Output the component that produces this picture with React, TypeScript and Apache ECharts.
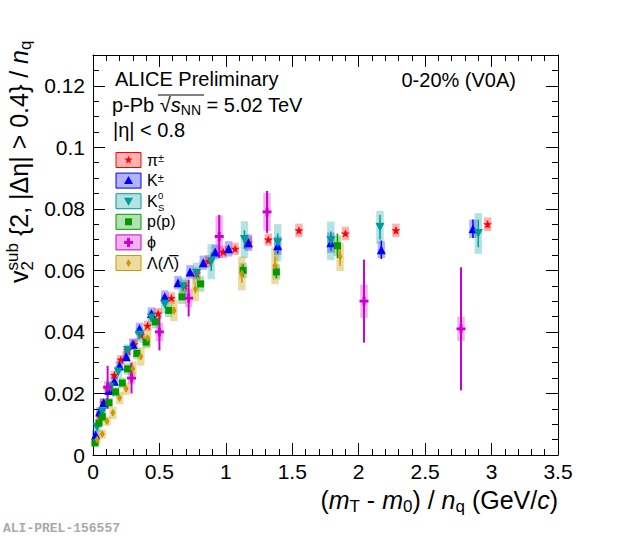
import { useEffect, useRef } from 'react'
import * as echarts from 'echarts'

// pi+-
const pionX = [0.05, 0.08, 0.12, 0.16, 0.21, 0.26, 0.31, 0.36, 0.41, 0.49, 0.59, 0.69, 0.78, 0.87, 0.98, 1.07, 1.17, 1.32, 1.55, 1.9, 2.28, 2.97]
const pionY = [0.013, 0.017, 0.021, 0.026, 0.031, 0.034, 0.036, 0.039, 0.042, 0.046, 0.051, 0.055, 0.059, 0.063, 0.066, 0.067, 0.069, 0.07, 0.073, 0.072, 0.073, 0.075]
const pionStat = [0.0004, 0.0004, 0.0004, 0.0004, 0.0004, 0.0004, 0.0004, 0.0004, 0.0004, 0.0004, 0.0004, 0.0004, 0.0004, 0.0004, 0.0005, 0.0005, 0.0005, 0.0006, 0.0007, 0.0008, 0.0009, 0.0011]
const pionSys = [0.0012, 0.0012, 0.0013, 0.0014, 0.0015, 0.0015, 0.0016, 0.0017, 0.0017, 0.0018, 0.0019, 0.002, 0.002, 0.002, 0.002, 0.002, 0.002, 0.002, 0.0022, 0.0022, 0.0022, 0.0022]

// K+-
const kaonX = [0.02, 0.05, 0.08, 0.12, 0.16, 0.2, 0.25, 0.3, 0.35, 0.44, 0.54, 0.64, 0.73, 0.83, 0.92, 1.02, 1.17, 1.39, 1.79, 2.17, 2.86]
const kaonY = [0.0065, 0.014, 0.017, 0.021, 0.024, 0.029, 0.032, 0.036, 0.041, 0.046, 0.0514, 0.056, 0.0595, 0.0625, 0.066, 0.067, 0.069, 0.068, 0.069, 0.0667, 0.0735]
const kaonStat = [0.0006, 0.0005, 0.0005, 0.0005, 0.0005, 0.0005, 0.0005, 0.0005, 0.0005, 0.0005, 0.0006, 0.0006, 0.0007, 0.0008, 0.0009, 0.001, 0.0012, 0.0025, 0.0025, 0.003, 0.003]
const kaonSys = [0.0015, 0.0015, 0.0015, 0.0015, 0.0016, 0.0017, 0.0018, 0.0019, 0.002, 0.002, 0.0021, 0.0022, 0.0022, 0.0023, 0.0024, 0.0025, 0.0027, 0.003, 0.0033, 0.0027, 0.003]

// K0s
const k0sX = [0.03, 0.07, 0.13, 0.19, 0.26, 0.35, 0.44, 0.54, 0.68, 0.78, 0.89, 1.14, 1.39, 1.79, 2.16, 2.9]
const k0sY = [0.009, 0.014, 0.022, 0.027, 0.034, 0.039, 0.0445, 0.049, 0.0547, 0.059, 0.0628, 0.07, 0.069, 0.0696, 0.074, 0.072]
const k0sStat = [0.0008, 0.0008, 0.0008, 0.0008, 0.0008, 0.0009, 0.001, 0.001, 0.0012, 0.0015, 0.003, 0.003, 0.003, 0.003, 0.004, 0.0045]
const k0sSys = [0.0015, 0.0015, 0.002, 0.002, 0.002, 0.0025, 0.0025, 0.003, 0.003, 0.0035, 0.0057, 0.006, 0.006, 0.0063, 0.0053, 0.0066]

// p(pbar)
const protonX = [0.015, 0.045, 0.07, 0.12, 0.17, 0.22, 0.26, 0.33, 0.4, 0.47, 0.57, 0.67, 0.81, 1.13, 1.38, 1.84]
const protonY = [0.004, 0.0104, 0.0124, 0.017, 0.0205, 0.0234, 0.028, 0.033, 0.0367, 0.0433, 0.047, 0.0514, 0.0556, 0.06, 0.0595, 0.068]
const protonStat = [0.0005, 0.0005, 0.0005, 0.0005, 0.0005, 0.0005, 0.0005, 0.0005, 0.0006, 0.0006, 0.0007, 0.0008, 0.001, 0.002, 0.002, 0.004]
const protonSys = [0.0015, 0.0015, 0.0015, 0.0015, 0.0016, 0.0017, 0.0018, 0.0019, 0.002, 0.0021, 0.0022, 0.0023, 0.0025, 0.0025, 0.0025, 0.0033]

// phi
const phiX = [0.11, 0.29, 0.5, 0.72, 0.95, 1.31, 2.04, 2.77]
const phiY = [0.022, 0.025, 0.04, 0.051, 0.071, 0.079, 0.05, 0.041]
const phiStat = [0.007, 0.005, 0.006, 0.006, 0.007, 0.0068, 0.0135, 0.02]
const phiSys = [0.002, 0.002, 0.003, 0.003, 0.0068, 0.0062, 0.0054, 0.004]

// Lambda
const lambdaX = [0.03, 0.07, 0.105, 0.15, 0.2, 0.25, 0.3, 0.36, 0.41, 0.61, 0.77, 1.12, 1.37, 1.86]
const lambdaY = [0.005, 0.0068, 0.011, 0.0137, 0.0185, 0.0215, 0.028, 0.032, 0.038, 0.047, 0.054, 0.059, 0.0615, 0.0644]
const lambdaStat = [0.001, 0.001, 0.001, 0.001, 0.001, 0.001, 0.001, 0.001, 0.001, 0.0012, 0.0015, 0.003, 0.003, 0.003]
const lambdaSys = [0.0015, 0.0015, 0.0015, 0.002, 0.002, 0.002, 0.0025, 0.003, 0.003, 0.0035, 0.004, 0.0055, 0.006, 0.0046]

const FONT = 'Liberation Sans, Arial, Helvetica, sans-serif'
const BOX_HW = 0.028

const STAR = 'path://M0,-10L2.35,-3.24L9.51,-3.09L3.8,1.24L5.88,8.09L0,4L-5.88,8.09L-3.8,1.24L-9.51,-3.09L-2.35,-3.24Z'
const CROSS = 'path://M-1.6,-5H1.6V-1.6H5V1.6H1.6V5H-1.6V1.6H-5V-1.6H-1.6Z'

const species = [
  { key: 'pion', x: pionX, y: pionY, stat: pionStat, sys: pionSys, color: '#ff0000', fill: 'rgba(255,0,0,0.3)', symbol: STAR, size: 9, rotate: 0 },
  { key: 'kaon', x: kaonX, y: kaonY, stat: kaonStat, sys: kaonSys, color: '#0000ff', fill: 'rgba(0,0,255,0.3)', symbol: 'triangle', size: 9, rotate: 0 },
  { key: 'k0s', x: k0sX, y: k0sY, stat: k0sStat, sys: k0sSys, color: '#009a9a', fill: 'rgba(0,160,160,0.3)', symbol: 'triangle', size: 9, rotate: 180 },
  { key: 'proton', x: protonX, y: protonY, stat: protonStat, sys: protonSys, color: '#009900', fill: 'rgba(0,160,0,0.3)', symbol: 'rect', size: 7, rotate: 0 },
  { key: 'phi', x: phiX, y: phiY, stat: phiStat, sys: phiSys, color: '#cc00cc', fill: 'rgba(204,0,204,0.3)', symbol: CROSS, size: 9, rotate: 0 },
  { key: 'lambda', x: lambdaX, y: lambdaY, stat: lambdaStat, sys: lambdaSys, color: '#cc9900', fill: 'rgba(204,153,0,0.35)', symbol: 'diamond', size: [5, 8], rotate: 0 },
]

const legendLabels = ['π{sp|±}', 'K{sp|±}', 'K', 'p(p)', 'ϕ', 'Λ(Λ̅)']

function starPoints(cx: number, cy: number, r: number) {
  const pts: number[][] = []
  for (let i = 0; i < 10; i++) {
    const a = -Math.PI / 2 + (i * Math.PI) / 5
    const rr = i % 2 === 0 ? r : r * 0.4
    pts.push([cx + rr * Math.cos(a), cy + rr * Math.sin(a)])
  }
  return pts
}

function legendMarker(i: number, cx: number, cy: number, color: string): any[] {
  const style = { fill: color }
  if (i === 0) return [{ type: 'polygon', shape: { points: starPoints(cx, cy, 4.5) }, style }]
  if (i === 1) return [{ type: 'polygon', shape: { points: [[cx, cy - 4.5], [cx + 4.5, cy + 3.5], [cx - 4.5, cy + 3.5]] }, style }]
  if (i === 2) return [{ type: 'polygon', shape: { points: [[cx, cy + 4.5], [cx + 4.5, cy - 3.5], [cx - 4.5, cy - 3.5]] }, style }]
  if (i === 3) return [{ type: 'rect', shape: { x: cx - 3.5, y: cy - 3.5, width: 7, height: 7 }, style }]
  if (i === 4)
    return [
      { type: 'rect', shape: { x: cx - 4.5, y: cy - 1.5, width: 9, height: 3 }, style },
      { type: 'rect', shape: { x: cx - 1.5, y: cy - 4.5, width: 3, height: 9 }, style },
    ]
  return [{ type: 'polygon', shape: { points: [[cx, cy - 4], [cx + 2.5, cy], [cx, cy + 4], [cx - 2.5, cy]] }, style }]
}

const subRich = (size: number, lh: number) => ({ fontSize: size, fontFamily: FONT, lineHeight: lh, verticalAlign: 'bottom', fill: '#000' })
const supRich = (size: number, lh: number) => ({ fontSize: size, fontFamily: FONT, lineHeight: lh, verticalAlign: 'top', fill: '#000' })

function App() {
  const chartRef = useRef<HTMLDivElement>(null)

  useEffect(() => {
    if (!chartRef.current) return
    const chart = echarts.init(chartRef.current, null, { renderer: 'svg' })

    const boxSeries = species.map((s) => ({
      type: 'custom',
      name: s.key + '-sys',
      z: 2,
      data: s.x.map((x, i) => [x, s.y[i], s.stat[i], s.sys[i]]),
      encode: { x: 0, y: 1 },
      renderItem: (_p: any, api: any) => {
        const x = api.value(0)
        const y = api.value(1)
        const e = api.value(3)
        const a = api.coord([x - BOX_HW, y + e])
        const b = api.coord([x + BOX_HW, y - e])
        return { type: 'rect', shape: { x: a[0], y: a[1], width: b[0] - a[0], height: b[1] - a[1] }, style: { fill: s.fill } }
      },
    }))

    const barSeries = species.map((s) => ({
      type: 'custom',
      name: s.key + '-stat',
      z: 3,
      data: s.x.map((x, i) => [x, s.y[i], s.stat[i], s.sys[i]]),
      encode: { x: 0, y: 1 },
      renderItem: (_p: any, api: any) => {
        const x = api.value(0)
        const y = api.value(1)
        const e = api.value(2)
        const a = api.coord([x, y + e])
        const b = api.coord([x, y - e])
        return { type: 'line', shape: { x1: a[0], y1: a[1], x2: b[0], y2: b[1] }, style: { stroke: s.color, lineWidth: s.key === 'phi' ? 2 : 1.5 } }
      },
    }))

    const markerSeries = species.map((s) => ({
      type: 'scatter',
      name: s.key,
      z: 4,
      data: s.x.map((x, i) => [x, s.y[i]]),
      symbol: s.symbol,
      symbolSize: s.size,
      symbolRotate: s.rotate,
      symbolKeepAspect: true,
      itemStyle: { color: s.color, opacity: 1 },
    }))

    const axisLine = { show: true, onZero: false, lineStyle: { color: '#000', width: 1 } }
    const xBase = {
      type: 'value',
      min: 0,
      max: 3.5,
      interval: 0.5,
      axisLine,
      axisTick: { show: true, inside: true, length: 12, lineStyle: { color: '#000' } },
      minorTick: { show: true, splitNumber: 5, length: 6, lineStyle: { color: '#000' } },
      splitLine: { show: false },
      minorSplitLine: { show: false },
    }
    const yMajor = {
      type: 'value',
      min: 0,
      max: 0.13,
      interval: 0.02,
      axisLine,
      axisTick: { show: true, inside: true, length: 12, lineStyle: { color: '#000' } },
      splitLine: { show: false },
    }
    const yMinor = {
      type: 'value',
      min: 0,
      max: 0.13,
      interval: 0.005,
      axisLine: { show: false, onZero: false },
      axisTick: { show: true, inside: true, length: 6, lineStyle: { color: '#000' } },
      axisLabel: { show: false },
      splitLine: { show: false },
    }

    const legendEls: any[] = []
    species.forEach((s, i) => {
      const cy = 160 + i * 20.6
      legendEls.push({ type: 'rect', shape: { x: 116, y: cy - 7.5, width: 25, height: 15 }, style: { fill: s.fill, stroke: s.color, lineWidth: 1 } })
      legendMarker(i, 128.5, cy, s.color).forEach((el) => legendEls.push(el))
      legendEls.push({
        type: 'text',
        x: 147,
        y: cy,
        style: {
          text: legendLabels[i],
          fontSize: 16,
          fontFamily: FONT,
          lineHeight: 16,
          fill: '#000',
          align: 'left',
          verticalAlign: 'middle',
          rich: { sp: supRich(11, 6) },
        },
      })
    })
    // stacked 0 / S of K0s
    const k0cy = 160 + 2 * 20.6
    legendEls.push({ type: 'text', x: 158, y: k0cy - 5.8, style: { text: '0', fontSize: 9.5, fontFamily: FONT, fill: '#000', align: 'left', verticalAlign: 'middle' } })
    legendEls.push({ type: 'text', x: 158, y: k0cy + 5.8, style: { text: 'S', fontSize: 9.5, fontFamily: FONT, fill: '#000', align: 'left', verticalAlign: 'middle' } })

    const mainRich = {
      i: { fontSize: 25, fontFamily: FONT, fontStyle: 'italic', lineHeight: 30, fill: '#000' },
      sb: subRich(17, 12),
      sp: supRich(17, 16),
    }

    const option: any = {
      animation: false,
      backgroundColor: '#fff',
      grid: { left: 93, right: 62, top: 55, bottom: 81 },
      xAxis: [
        { ...xBase, position: 'bottom', axisLabel: { fontSize: 21, fontFamily: FONT, color: '#000', margin: 6 } },
        { ...xBase, position: 'top', axisLabel: { show: false } },
      ],
      yAxis: [
        { ...yMajor, position: 'left', axisLabel: { fontSize: 21, fontFamily: FONT, color: '#000', margin: 8, showMaxLabel: false } },
        { ...yMinor, position: 'left' },
        { ...yMajor, position: 'right', axisLabel: { show: false } },
        { ...yMinor, position: 'right' },
      ],
      series: [...boxSeries, ...barSeries, ...markerSeries],
      graphic: [
        { type: 'text', x: 115, y: 79, style: { text: 'ALICE Preliminary', fontSize: 20, fontFamily: FONT, fill: '#000', align: 'left', verticalAlign: 'middle' } },
        {
          type: 'text',
          x: 112,
          y: 105,
          style: {
            text: 'p-Pb √{i|s}{sb|NN} = 5.02 TeV',
            fontSize: 20,
            fontFamily: FONT,
            lineHeight: 24,
            fill: '#000',
            align: 'left',
            verticalAlign: 'middle',
            rich: {
              i: { fontSize: 20, fontFamily: FONT, fontStyle: 'italic', lineHeight: 24, fill: '#000' },
              sb: subRich(14, 10),
            },
          },
        },
        { type: 'line', shape: { x1: 158, y1: 95, x2: 204, y2: 95 }, style: { stroke: '#000', lineWidth: 1 } },
        { type: 'text', x: 113, y: 130, style: { text: '|η| < 0.8', fontSize: 20, fontFamily: FONT, fill: '#000', align: 'left', verticalAlign: 'middle' } },
        { type: 'text', x: 516, y: 80, style: { text: '0-20% (V0A)', fontSize: 20, fontFamily: FONT, fill: '#000', align: 'right', verticalAlign: 'middle' } },
        ...legendEls,
        {
          type: 'text',
          x: 558,
          y: 500,
          style: {
            text: '({i|m}{sb|T} - {i|m}{sb|0}) / {i|n}{sb|q} (GeV/{i|c})',
            fontSize: 25,
            fontFamily: FONT,
            lineHeight: 30,
            fill: '#000',
            align: 'right',
            verticalAlign: 'middle',
            rich: mainRich,
          },
        },
        {
          type: 'group',
          x: 19,
          y: 283,
          rotation: Math.PI / 2,
          children: [
            { type: 'text', x: 0, y: 0, style: { text: 'v{sp|sub}', fontSize: 25, fontFamily: FONT, lineHeight: 30, fill: '#000', align: 'left', verticalAlign: 'middle', rich: mainRich } },
            { type: 'text', x: 12.5, y: 8.8, style: { text: '2', fontSize: 17, fontFamily: FONT, fill: '#000', align: 'left', verticalAlign: 'middle' } },
            { type: 'text', x: 40, y: 0, style: { text: ' {2, |Δη| > 0.4} / {i|n}{sb|q}', fontSize: 25, fontFamily: FONT, lineHeight: 30, fill: '#000', align: 'left', verticalAlign: 'middle', rich: mainRich } },
          ],
        },
        { type: 'text', x: 3, y: 528, style: { text: 'ALI-PREL-156557', fontSize: 13, fontWeight: 'bold', fontFamily: 'Liberation Mono, DejaVu Sans Mono, monospace', fill: '#aaaaaa', align: 'left', verticalAlign: 'middle' } },
      ],
    }

    chart.setOption(option)

    return () => {
      chart.dispose()
    }
  }, [])

  return <div ref={chartRef} style={{ position: 'fixed', left: 0, top: 0, width: 620, height: 536, background: '#fff' }} />
}

export default App
